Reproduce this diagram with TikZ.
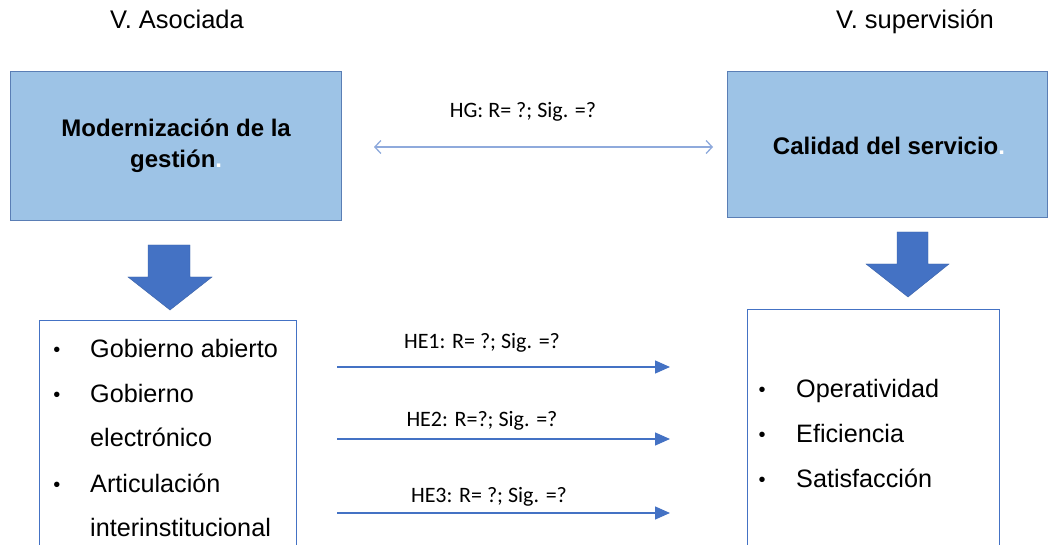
\documentclass[tikz,border=0pt]{standalone}
\usepackage{fontspec}
\setmainfont{Liberation Sans}
\newfontfamily\calib{Carlito}
\usetikzlibrary{arrows.meta}
\definecolor{boxfill}{HTML}{9DC3E6}
\definecolor{boxline}{HTML}{5A7EB5}
\definecolor{accent}{HTML}{4472C4}
\definecolor{lightarrow}{HTML}{8FAADC}
\tikzset{
  topbox/.style={draw=boxline, line width=1.3pt, fill=boxfill, anchor=north west, inner sep=0pt},
  listbox/.style={draw=accent, line width=1.1pt, fill=white, anchor=north west, inner sep=0pt},
  headtxt/.style={font=\fontsize{24}{31}\selectfont\bfseries, align=center, text=black},
  vartxt/.style={font=\fontsize{25.5}{28}\selectfont, text=black, anchor=base, inner sep=0pt},
  itemtxt/.style={font=\fontsize{25.2}{28}\selectfont, text=black, anchor=base west, inner sep=0pt},
  bullettxt/.style={font=\fontsize{20}{24}\selectfont, text=black, anchor=base, inner sep=0pt},
  hyptxt/.style={font=\calib\fontsize{22}{26}\selectfont, text=black, inner sep=0pt},
  blockarrow/.style={fill=accent, draw=accent!85!black, line width=0.4pt},
  hyparrow/.style={draw=accent, line width=1.4pt, -{Triangle[length=15pt,width=13pt]}},
  hgarrow/.style={draw=lightarrow, line width=1.3pt, {Straight Barb[length=6pt,width=13pt]}-{Straight Barb[length=6pt,width=13pt]}}
}
\begin{document}
\begin{tikzpicture}[x=1pt,y=-1pt]
\useasboundingbox (0,0) rectangle (1049,545);
\clip (0,0) rectangle (1049,545);
\fill[white] (0,0) rectangle (1049,545);

% titles
\node[vartxt] (va) at (177,29) {V. Asociada};
\node[vartxt] (vs) at (915,29) {V. supervisión};

% top boxes
\node[topbox, minimum width=331, minimum height=149] (mg) at (10,71) {};
\node[headtxt] (mgt) at (mg.center) {Modernización de la\\gestión\textcolor{white}{.}};
\node[topbox, minimum width=320, minimum height=146] (cs) at (727,71) {};
\node[headtxt] (cst) at (889,146) {Calidad del servicio\textcolor{white}{.}};

% HG
\node[hyptxt] (hg) at (523,112) {HG: R= ?; Sig. =?};
\coordinate (hga) at (374,147);
\coordinate (hgb) at (713,147);
\draw[hgarrow] (hga) -- (hgb);

% block arrows
\draw[blockarrow] (148,245) -- (190,245) -- (190,277) -- (212,277) -- (170,310) -- (128,277) -- (148,277) -- cycle;
\draw[blockarrow] (897,232) -- (928,232) -- (928,264) -- (949,264) -- (908,297) -- (866,264) -- (897,264) -- cycle;

% bottom boxes
\node[listbox, minimum width=257, minimum height=260] (lb) at (39,320) {};
\node[listbox, minimum width=252, minimum height=260] (rb) at (747,309) {};

% left list
\node[bullettxt] (b1) at (57,356) {•};
\node[itemtxt] (i1) at (90,357) {Gobierno abierto};
\node[bullettxt] (b2) at (57,401) {•};
\node[itemtxt] (i2) at (90,402) {Gobierno};
\node[itemtxt] (i2b) at (90,446) {electrónico};
\node[bullettxt] (b3) at (57,491) {•};
\node[itemtxt] (i3) at (90,492) {Articulación};
\node[itemtxt] (i3b) at (90,536) {interinstitucional};

% right list
\node[bullettxt] (r1) at (762,396) {•};
\node[itemtxt] (j1) at (796,397) {Operatividad};
\node[bullettxt] (r2) at (762,441) {•};
\node[itemtxt] (j2) at (796,442) {Eficiencia};
\node[bullettxt] (r3) at (762,486) {•};
\node[itemtxt] (j3) at (796,487) {Satisfacción};

% hypothesis arrows
\coordinate (h1a) at (337,367); \coordinate (h1b) at (670,367);
\coordinate (h2a) at (337,439); \coordinate (h2b) at (670,439);
\coordinate (h3a) at (337,513); \coordinate (h3b) at (670,513);
\draw[hyparrow] (h1a) -- (h1b);
\draw[hyparrow] (h2a) -- (h2b);
\draw[hyparrow] (h3a) -- (h3b);
\node[hyptxt] (he1) at (482,343) {HE1: R= ?; Sig. =?};
\node[hyptxt] (he2) at (482,421) {HE2: R=?; Sig. =?};
\node[hyptxt] (he3) at (489,497) {HE3: R= ?; Sig. =?};
\end{tikzpicture}
\end{document}
